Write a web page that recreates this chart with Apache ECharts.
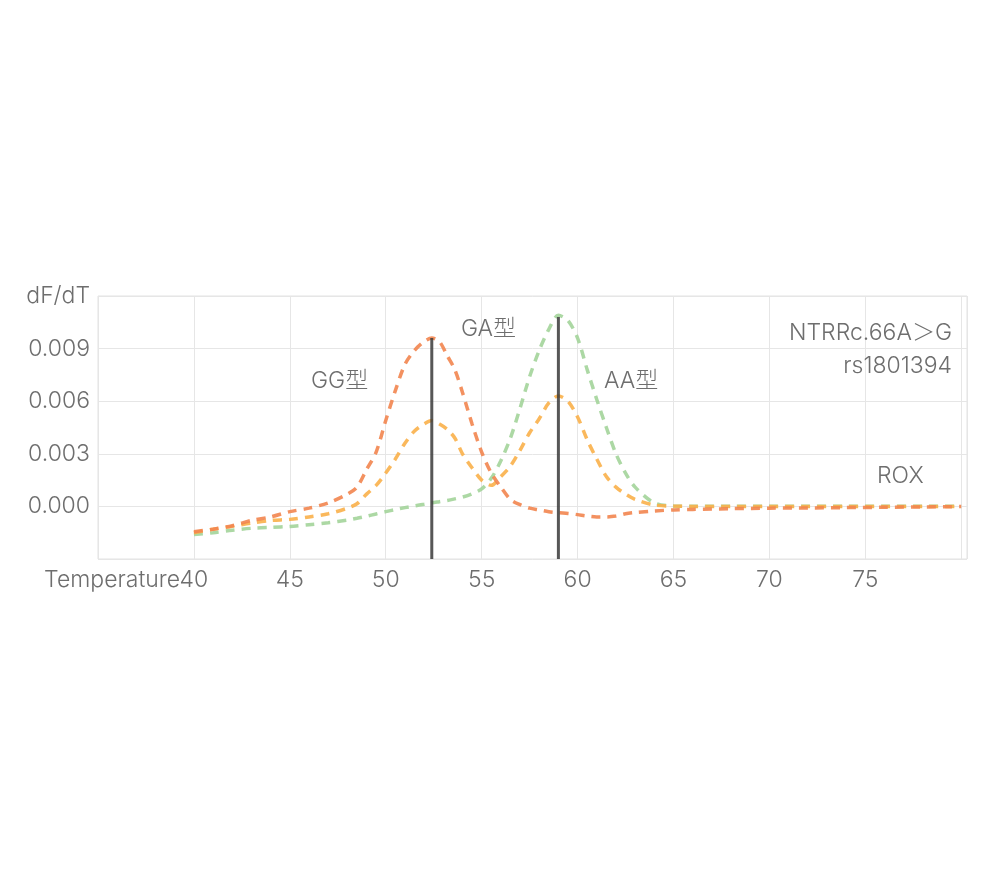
<!DOCTYPE html>
<html>
<head>
<meta charset="utf-8">
<script src="https://cdn.jsdelivr.net/npm/echarts@6/dist/echarts.min.js"></script>
<style>html,body{margin:0;padding:0;background:#fff;}#chart{width:1000px;height:880px;}</style>
</head>
<body>
<div id="chart"></div>
<script>
// Temperatures (°C) at which values were read
const temps = [40,41,42,43,44,45,46,47,48,48.5,49,49.5,50,50.5,51,51.5,52,52.4,52.8,53.2,53.6,54,54.5,55,55.5,56,56.5,57,57.5,58,58.5,59,59.5,60,60.5,61,61.5,62,62.5,63,64,65,66,68,70,72,74,76,78,80];
// GG型 (red-orange)
const ggValues = [-0.00144,-0.0013,-0.0011,-0.0008,-0.0006,-0.0003,-0.0001,0.0002,0.0007,0.0011,0.0021,0.0031,0.0049,0.0066,0.0081,0.0089,0.0094,0.0096,0.0094,0.0086,0.0078,0.0065,0.0047,0.0031,0.0019,0.0011,0.0004,0.0001,-0.0001,-0.0002,-0.0003,-0.00036,-0.0004,-0.00047,-0.00055,-0.0006,-0.0006,-0.00055,-0.00042,-0.00035,-0.00026,-0.0002,-0.00017,-0.00013,-0.0001,-0.00009,-0.00007,-0.00005,-0.00003,-0.00001];
// GA型 (orange)
const gaValues = [-0.0015,-0.0013,-0.00114,-0.00095,-0.0008,-0.00074,-0.0006,-0.00042,-0.0001,0.00015,0.0007,0.0012,0.0019,0.0027,0.0036,0.0043,0.0047,0.0049,0.0047,0.0044,0.0039,0.003,0.0022,0.0015,0.0012,0.0017,0.0023,0.0032,0.0042,0.005,0.0059,0.0063,0.006,0.0051,0.0038,0.0027,0.0017,0.0011,0.0007,0.0004,0.00008,0.00002,0,0,0,0,0,0,0,0];
// AA型 (green)
const aaValues = [-0.0016,-0.0015,-0.00136,-0.00125,-0.0012,-0.00114,-0.00104,-0.00093,-0.00078,-0.00068,-0.00056,-0.00043,-0.0003,-0.00018,-0.00007,0.00003,0.00012,0.0002,0.00027,0.00034,0.00043,0.00053,0.00072,0.001,0.0016,0.0026,0.0039,0.0056,0.0074,0.0089,0.0101,0.0109,0.0106,0.0096,0.0078,0.0061,0.0045,0.003,0.0019,0.0011,0.0002,0.00002,0.00001,0.00001,0.00001,0.00001,0.00001,0.00001,0.00001,0.00001];
// Vertical marker lines (peak temperature, top value)
const markerTemps = [52.4, 59.0];
const markerTops = [0.0096, 0.0108];
const yTickLabels = {top: 'dF/dT'};
const xAxisName = 'Temperature';

const FONT = 'Inter, "Noto Sans", "Noto Sans CJK SC", sans-serif';
const TXT = '#6e6e6e';
const pair = vals => temps.map((t, i) => [t, vals[i]]);
const dashed = (name, color, vals) => ({
  name, type: 'line', data: pair(vals), smooth: 0.3, symbol: 'none',
  lineStyle: {color, width: 3.5, type: [9, 7], opacity: 0.9}, z: 3
});
const markerSeries = markerTemps.map((t, i) => ({
  type: 'line', symbol: 'none', data: [[t, -0.003], [t, markerTops[i]]],
  lineStyle: {color: '#3a3a3a', width: 3, opacity: 0.85}, z: 5, silent: true
}));

const chart = echarts.init(document.getElementById('chart'), null, {renderer: 'canvas'});
const textEl = (text, x, y, align) => ({
  type: 'text', x, y, z: 10,
  style: {text, font: '300 23px ' + FONT, fill: TXT, align, verticalAlign: 'middle'}
});
chart.setOption({
  animation: false,
  backgroundColor: '#fff',
  grid: {left: 98, right: 33, top: 296, bottom: 321, show: true, borderColor: '#e3e3e3', borderWidth: 1},
  xAxis: {
    type: 'value', min: 35, max: 80.3, interval: 5,
    axisLine: {show: false}, axisTick: {show: false},
    splitLine: {show: true, lineStyle: {color: '#e6e6e6', width: 1}},
    axisLabel: {
      color: TXT, fontSize: 23, fontWeight: 300, fontFamily: FONT, margin: 10,
      formatter: v => (v < 39 || v > 77) ? '' : String(v)
    }
  },
  yAxis: {
    type: 'value', min: -0.003, max: 0.012, interval: 0.003,
    axisLine: {show: false}, axisTick: {show: false},
    splitLine: {show: true, lineStyle: {color: '#e6e6e6', width: 1}},
    axisLabel: {
      color: TXT, fontSize: 23, fontWeight: 300, fontFamily: FONT, margin: 8,
      formatter: v => v > 0.0115 ? yTickLabels.top : (v < -0.0001 ? '' : v.toFixed(3))
    }
  },
  graphic: [
    textEl(xAxisName, 180, 580, 'right'),
    textEl('GG型', 311, 381, 'left'),
    textEl('GA型', 461, 329, 'left'),
    textEl('AA型', 604, 381, 'left'),
    textEl('NTRRc.66A＞G', 952, 333, 'right'),
    textEl('rs1801394', 952, 366, 'right'),
    textEl('ROX', 877, 476, 'left')
  ],
  series: [
    dashed('AA型', '#a3d49a', aaValues),
    dashed('GA型', '#f9b04a', gaValues),
    dashed('GG型', '#f2854f', ggValues),
    ...markerSeries
  ]
});
</script>
</body>
</html>
